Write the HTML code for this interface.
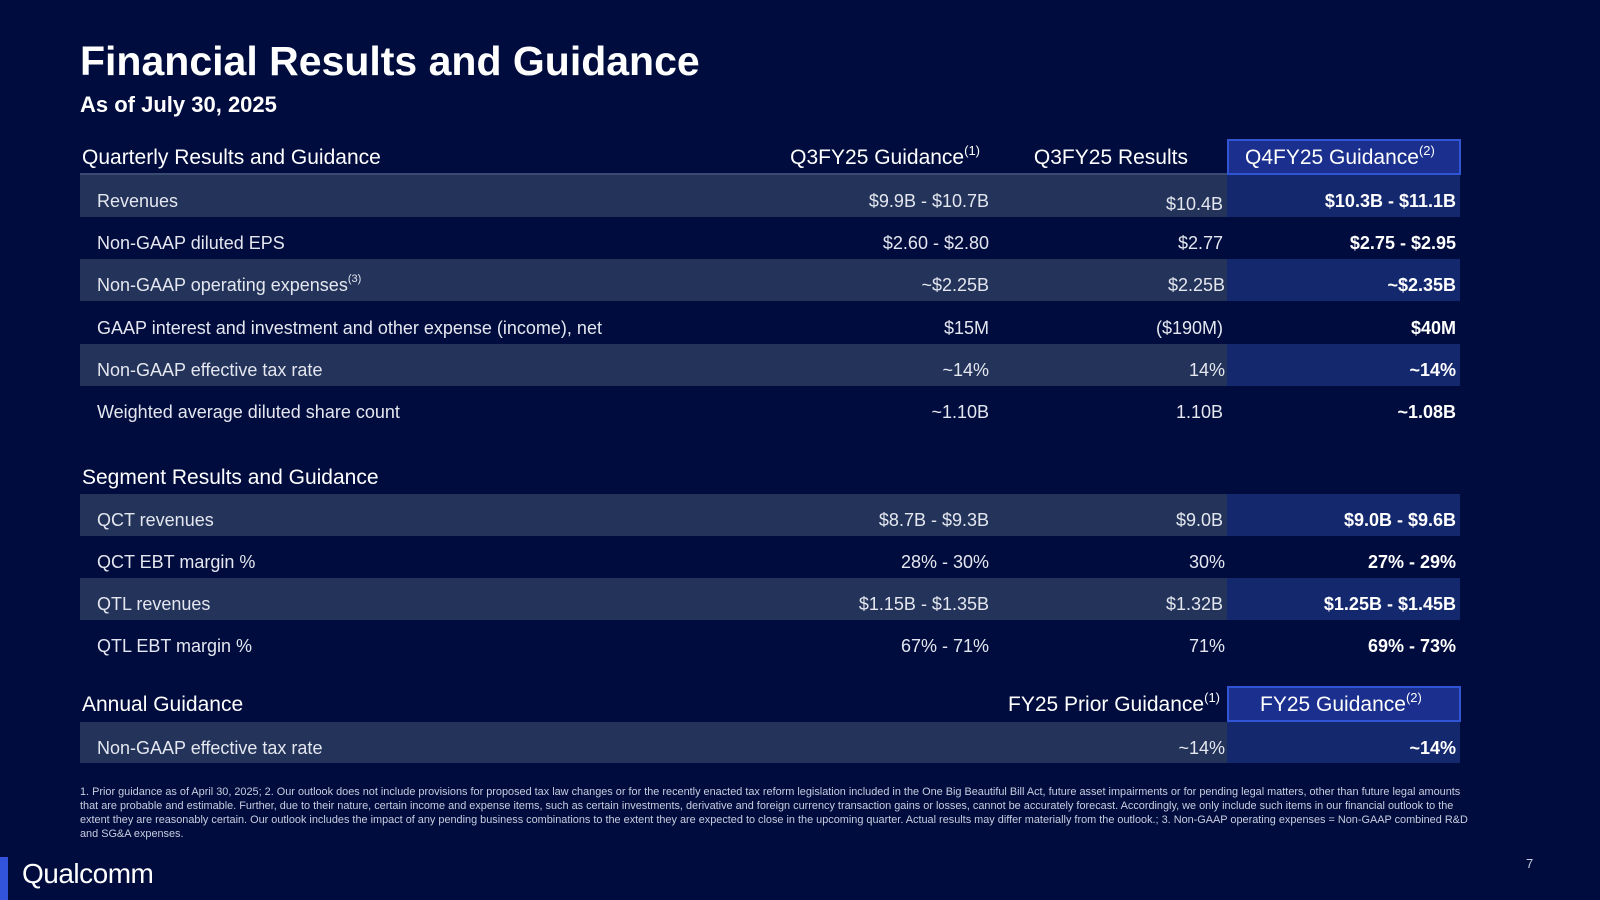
<!DOCTYPE html>
<html><head><meta charset="utf-8"><style>
*{margin:0;padding:0;box-sizing:border-box}
body{width:1600px;height:900px;background:#000c3d;color:#fff;font-family:"Liberation Sans",sans-serif;position:relative;overflow:hidden}
.a{position:absolute}
.row{position:absolute;left:80px;width:1380px;height:42px}
.row.s{background:#23335a}
.row .q4{position:absolute;left:1147px;width:233px;height:42px}
.row.s .q4{background:#14286e}
.row span{position:absolute;top:4px;line-height:44px;font-size:18px;color:#e4e7ef;white-space:nowrap}
.lab{left:17px}
.c1{right:471px;text-align:right}
.c2{right:237px;text-align:right}
.c3{right:4px;font-weight:bold;color:#fff!important}
.hd{position:absolute;font-size:21px;line-height:34px;white-space:nowrap}
.box{position:absolute;background:#1a2f8e;border:2px solid #2f55d4}
sup{font-size:13px;position:relative;top:-9px;vertical-align:baseline;line-height:0}
</style></head><body>
<div class="a" style="left:80px;top:38px;font-size:41px;font-weight:bold">Financial Results and Guidance</div>
<div class="a" style="left:80px;top:92px;font-size:22px;font-weight:bold">As of July 30, 2025</div>

<div class="box" style="left:1227px;top:139px;width:234px;height:36px"></div>
<div class="hd" style="left:82px;top:141px">Quarterly Results and Guidance</div>
<div class="hd" style="right:620px;top:141px">Q3FY25 Guidance<sup>(1)</sup></div>
<div class="hd" style="right:412px;top:141px">Q3FY25 Results</div>
<div class="hd" style="left:1245px;top:141px">Q4FY25 Guidance<sup>(2)</sup></div>
<div class="a" style="left:80px;top:173px;width:1147px;height:2px;background:#3a4a70"></div>

<div class="row s" style="top:175px"><div class="q4"></div><span class="lab">Revenues</span><span class="c1">$9.9B - $10.7B</span><span class="c2" style="top:7px">$10.4B</span><span class="c3">$10.3B - $11.1B</span></div>
<div class="row" style="top:217px"><div class="q4"></div><span class="lab">Non-GAAP diluted EPS</span><span class="c1">$2.60 - $2.80</span><span class="c2">$2.77</span><span class="c3">$2.75 - $2.95</span></div>
<div class="row s" style="top:259px"><div class="q4"></div><span class="lab">Non-GAAP operating expenses<sup style="font-size:11px">(3)</sup></span><span class="c1">~$2.25B</span><span class="c2" style="right:235px">$2.25B</span><span class="c3">~$2.35B</span></div>
<div class="row" style="top:302px"><div class="q4"></div><span class="lab">GAAP interest and investment and other expense (income), net</span><span class="c1">$15M</span><span class="c2">($190M)</span><span class="c3">$40M</span></div>
<div class="row s" style="top:344px"><div class="q4"></div><span class="lab">Non-GAAP effective tax rate</span><span class="c1">~14%</span><span class="c2" style="right:235px">14%</span><span class="c3">~14%</span></div>
<div class="row" style="top:386px"><div class="q4"></div><span class="lab">Weighted average diluted share count</span><span class="c1">~1.10B</span><span class="c2">1.10B</span><span class="c3">~1.08B</span></div>

<div class="hd" style="left:82px;top:461px">Segment Results and Guidance</div>
<div class="row s" style="top:494px"><div class="q4"></div><span class="lab">QCT revenues</span><span class="c1">$8.7B - $9.3B</span><span class="c2">$9.0B</span><span class="c3">$9.0B - $9.6B</span></div>
<div class="row" style="top:536px"><div class="q4"></div><span class="lab">QCT EBT margin %</span><span class="c1">28% - 30%</span><span class="c2" style="right:235px">30%</span><span class="c3">27% - 29%</span></div>
<div class="row s" style="top:578px"><div class="q4"></div><span class="lab">QTL revenues</span><span class="c1">$1.15B - $1.35B</span><span class="c2">$1.32B</span><span class="c3">$1.25B - $1.45B</span></div>
<div class="row" style="top:620px"><div class="q4"></div><span class="lab">QTL EBT margin %</span><span class="c1">67% - 71%</span><span class="c2" style="right:235px">71%</span><span class="c3">69% - 73%</span></div>

<div class="box" style="left:1227px;top:686px;width:234px;height:36px"></div>
<div class="hd" style="left:82px;top:688px">Annual Guidance</div>
<div class="hd" style="right:380px;top:688px">FY25 Prior Guidance<sup>(1)</sup></div>
<div class="hd" style="left:1260px;top:688px">FY25 Guidance<sup>(2)</sup></div>
<div class="row s" style="top:722px;height:41px"><div class="q4" style="height:41px"></div><span class="lab">Non-GAAP effective tax rate</span><span class="c2" style="right:235px">~14%</span><span class="c3">~14%</span></div>

<div class="a" style="left:80px;top:785px;width:1395px;font-size:10.9px;line-height:14px;color:#c8cde0">1. Prior guidance as of April 30, 2025; 2. Our outlook does not include provisions for proposed tax law changes or for the recently enacted tax reform legislation included in the One Big Beautiful Bill Act, future asset impairments or for pending legal matters, other than future legal amounts that are probable and estimable. Further, due to their nature, certain income and expense items, such as certain investments, derivative and foreign currency transaction gains or losses, cannot be accurately forecast. Accordingly, we only include such items in our financial outlook to the extent they are reasonably certain. Our outlook includes the impact of any pending business combinations to the extent they are expected to close in the upcoming quarter. Actual results may differ materially from the outlook.; 3. Non-GAAP operating expenses = Non-GAAP combined R&amp;D and SG&amp;A expenses.</div>

<div class="a" style="left:0;top:857px;width:8px;height:43px;background:#3253dc"></div>
<div class="a" style="left:22px;top:858px;font-size:28px;letter-spacing:-0.5px">Qualcomm</div>
<div class="a" style="left:1526px;top:856px;font-size:13px;color:#c8cde0">7</div>
</body></html>
